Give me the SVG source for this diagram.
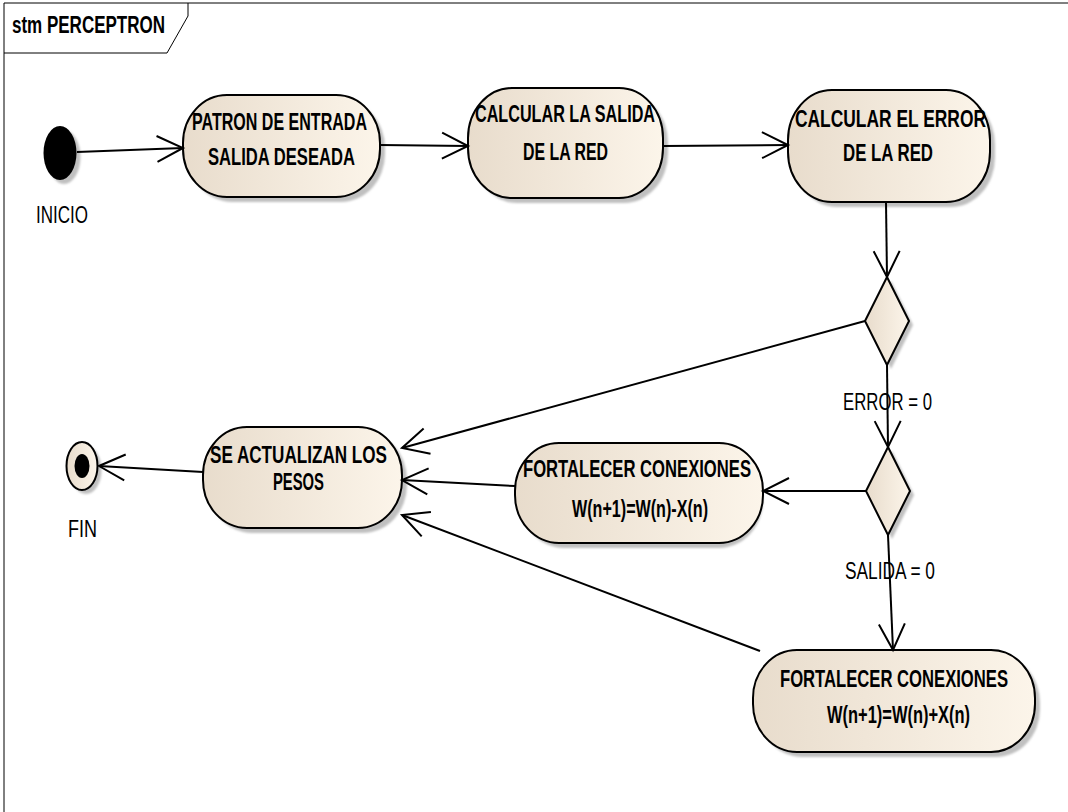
<svg xmlns="http://www.w3.org/2000/svg" width="1068" height="812" viewBox="0 0 1068 812">
<defs>
<linearGradient id="fill" x1="0" y1="0" x2="1" y2="0">
<stop offset="0" stop-color="#E8DCCC"/>
<stop offset="1" stop-color="#FCF5EA"/>
</linearGradient>
<filter id="blur" x="-10%" y="-10%" width="120%" height="120%"><feGaussianBlur stdDeviation="1.2"/></filter>
<marker id="arr" markerUnits="userSpaceOnUse" markerWidth="40" markerHeight="40" viewBox="-30 -20 40 40" refX="0" refY="0" orient="auto">
<path d="M-26,-13 L0,0 L-26,13" fill="none" stroke="#000" stroke-width="2"/>
</marker>
</defs>
<style>
.node{fill:url(#fill);stroke:#000;stroke-width:2}
.shadow{fill:#c0c0c0;filter:url(#blur)}
.edge{fill:none;stroke:#000;stroke-width:2;marker-end:url(#arr)}
.b{font-family:"Liberation Sans Narrow","Liberation Sans",Arial,sans-serif;font-weight:bold;font-size:23px;fill:#000}
.r{font-family:"Liberation Sans Narrow","Liberation Sans",Arial,sans-serif;font-size:24px;fill:#000}
</style>
<rect width="1068" height="812" fill="#fff"/>
<g id="frame">
<path d="M4,812 L4,3 L1068,3" fill="none" stroke="#000" stroke-width="1"/>
<path d="M4,53 L167,53 L188,16 L188,3" fill="none" stroke="#000" stroke-width="1"/>
<text x="12" y="33" class="b" font-size="18" textLength="153" lengthAdjust="spacingAndGlyphs">stm PERCEPTRON</text>
</g>
<g id="inicio">
<ellipse cx="64" cy="157" rx="16.5" ry="27" class="shadow"/>
<ellipse cx="60" cy="153" rx="16.5" ry="27" fill="#000"/>
<text x="36" y="223" class="r" textLength="52" lengthAdjust="spacingAndGlyphs">INICIO</text>
</g>
<g id="n1">
<rect x="188" y="100" width="197" height="102" rx="44" ry="48" class="shadow"/>
<rect x="183" y="95" width="197" height="102" rx="44" ry="48" class="node"/>
<text x="192" y="130" class="b" textLength="175" lengthAdjust="spacingAndGlyphs">PATRON DE ENTRADA</text>
<text x="208" y="165" class="b" textLength="147" lengthAdjust="spacingAndGlyphs">SALIDA DESEADA</text>
</g>
<g id="n2">
<rect x="473" y="93" width="195" height="110" rx="44" ry="50" class="shadow"/>
<rect x="468" y="88" width="195" height="110" rx="44" ry="50" class="node"/>
<text x="475" y="122" class="b" textLength="180" lengthAdjust="spacingAndGlyphs">CALCULAR LA SALIDA</text>
<text x="523" y="160" class="b" textLength="85" lengthAdjust="spacingAndGlyphs">DE LA RED</text>
</g>
<g id="n3">
<rect x="793" y="95" width="202" height="112" rx="44" ry="50" class="shadow"/>
<rect x="788" y="90" width="202" height="112" rx="44" ry="50" class="node"/>
<text x="795" y="127" class="b" textLength="191" lengthAdjust="spacingAndGlyphs">CALCULAR EL ERROR</text>
<text x="843" y="161" class="b" textLength="90" lengthAdjust="spacingAndGlyphs">DE LA RED</text>
</g>
<g id="d1">
<polygon points="891,281 913,325 891,369 869,325" class="shadow"/>
<polygon points="887,277 909,321 887,365 865,321" class="node"/>
</g>
<g id="d2">
<polygon points="892,451 914,495 892,539 870,495" class="shadow"/>
<polygon points="888,447 910,491 888,535 866,491" class="node"/>
</g>
<g id="n5">
<rect x="208" y="432" width="199" height="101" rx="44" ry="48" class="shadow"/>
<rect x="203" y="427" width="199" height="101" rx="44" ry="48" class="node"/>
<text x="210" y="463" class="b" textLength="177" lengthAdjust="spacingAndGlyphs">SE ACTUALIZAN LOS</text>
<text x="273" y="490" class="b" textLength="51" lengthAdjust="spacingAndGlyphs">PESOS</text>
</g>
<g id="n6">
<rect x="520" y="448" width="243" height="100" rx="44" ry="48" class="shadow"/>
<rect x="515" y="443" width="248" height="100" rx="44" ry="48" class="node"/>
<text x="523" y="477" class="b" textLength="228" lengthAdjust="spacingAndGlyphs">FORTALECER CONEXIONES</text>
<text x="572" y="517" class="b" font-size="20" textLength="136" lengthAdjust="spacingAndGlyphs">W(n+1)=W(n)-X(n)</text>
</g>
<g id="n7">
<rect x="758" y="655" width="282" height="102" rx="44" ry="48" class="shadow"/>
<rect x="753" y="650" width="282" height="102" rx="44" ry="48" class="node"/>
<text x="780" y="687" class="b" textLength="228" lengthAdjust="spacingAndGlyphs">FORTALECER CONEXIONES</text>
<text x="827" y="723" class="b" font-size="20" textLength="143" lengthAdjust="spacingAndGlyphs">W(n+1)=W(n)+X(n)</text>
</g>
<g id="fin">
<ellipse cx="86" cy="470" rx="15.5" ry="24" class="shadow"/>
<ellipse cx="82" cy="466" rx="15.5" ry="24" class="node"/>
<ellipse cx="82" cy="466" rx="7.5" ry="12" fill="#000"/>
<text x="68" y="537" class="r" textLength="29" lengthAdjust="spacingAndGlyphs">FIN</text>
</g>
<g id="connectors">
<path d="M77,152 L183,148" class="edge"/>
<path d="M380,145 L468,146" class="edge"/>
<path d="M663,146 L788,145" class="edge"/>
<path d="M886,202 L887,277" class="edge"/>
<path d="M865,321 L402,448" class="edge"/>
<path d="M887,365 L888,447" class="edge"/>
<path d="M866,491 L763,491" class="edge"/>
<path d="M888,535 L893,650" class="edge"/>
<path d="M515,486 L402,480" class="edge"/>
<path d="M760,651 L402,515" class="edge"/>
<path d="M203,472 L99,466" class="edge"/>
</g>
<g id="labels">
<text x="843" y="410" class="r" textLength="89" lengthAdjust="spacingAndGlyphs">ERROR = 0</text>
<text x="845" y="579" class="r" textLength="90" lengthAdjust="spacingAndGlyphs">SALIDA = 0</text>
</g>
</svg>
